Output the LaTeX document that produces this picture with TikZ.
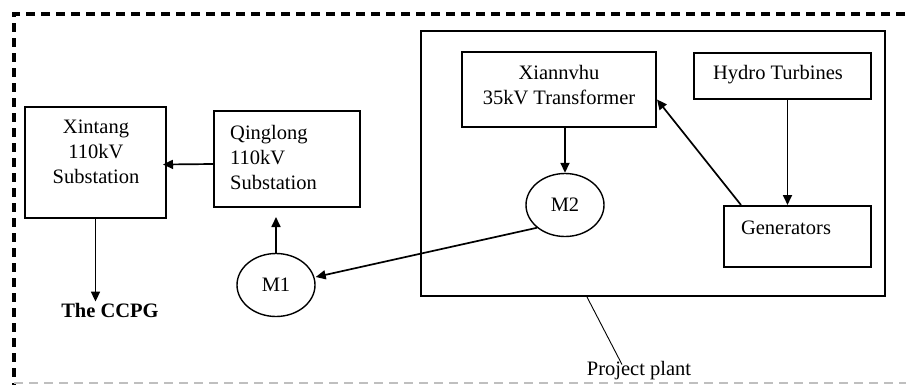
\documentclass[tikz,border=0pt]{standalone}
\usepackage{fontspec}
\setmainfont{Liberation Serif}
\usetikzlibrary{shapes.geometric,arrows.meta}

\begin{document}
\begin{tikzpicture}[x=1pt,y=-1pt,font=\fontsize{20.5}{25}\selectfont]
        \tikzset{box/.style 2 args={draw,rectangle,line width=2pt,minimum width=#1,minimum height=#2},
                 meter/.style={draw,ellipse,line width=1.4pt,minimum width=78pt,minimum height=63pt,inner sep=0pt},
                 arr/.style={-{Triangle[length=10pt,width=9pt]},line width=1.7pt},
                 txt/.style={align=center,inner sep=1pt}}

        \useasboundingbox (0,0) rectangle (906,384);
        \clip (0,0) rectangle (906,384);

        % boundary of the system
        \draw[line width=3.4pt,dash pattern=on 9pt off 6pt] (920,14) -- (14,14) -- (14,400);
        \draw[gray!50,line width=1.5pt,dash pattern=on 9pt off 6pt] (14,383) -- (920,383);

        \node[box={464pt}{265pt}] (plant) at (653,163.5) {};

        \node[box={141pt}{111pt}] (xin) at (95.5,162.5) {};
        \node[txt] (xin-t) at (96,152) {Xintang\\110kV\\Substation};
        \node[box={146pt}{96pt}] (qing) at (287,159) {};
        \node[txt,align=left,anchor=west] (qing-t) at (229,157) {Qinglong\\110kV\\Substation};
        \node[box={194pt}{75pt}] (xia) at (559,89.5) {};
        \node[txt] (xia-t) at (559,85) {Xiannvhu\\35kV Transformer};
        \node[box={177pt}{46pt}] (hyd) at (782.5,76) {};
        \node[txt] (hyd-t) at (778,75) {Hydro Turbines};
        \node[box={147pt}{61pt}] (gen) at (797.5,236.5) {};
        \node[txt] (gen-t) at (786,228) {Generators};

        \node[meter] (m1) at (276,285) {M1};
        \node[meter] (m2) at (565,205) {M2};

        \node[txt,font=\fontsize{20.5}{25}\selectfont\bfseries] (ccpg) at (110,310) {The CCPG};
        \node[txt] (lbl) at (639,371) {Project plant};

        \draw[arr] ([yshift=-5pt]qing.west) -- ([xshift=-4pt,yshift=-2pt]xin.east);
        \draw[arr] (xin.south) -- (xin.south |- ccpg.north);
        \draw[arr] (m1.north) -- ([yshift=-9pt]m1.north |- qing.south);
        \draw[arr] (m2.south west) -- ([yshift=8pt]m1.east);
        \draw[arr] (m2.north |- xia.south) -- (m2.north);
        \draw[arr] ([xshift=5pt]hyd.south) -- ([xshift=5pt]hyd.south |- gen.north);
        \draw[arr] ([xshift=18pt]gen.north west) -- ([yshift=-10pt]xia.east);
        \draw[line width=0.9pt] ([xshift=167pt]plant.south west) -- ([xshift=-17pt,yshift=-4pt]lbl.north);
\end{tikzpicture}
\end{document}
